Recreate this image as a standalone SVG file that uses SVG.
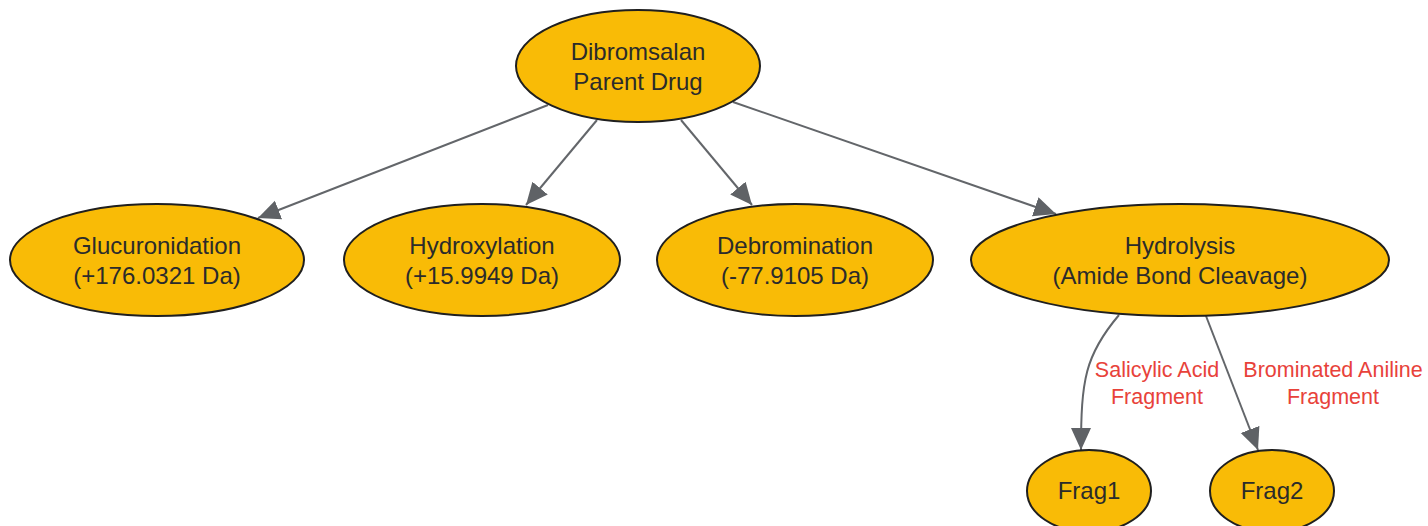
<svg xmlns="http://www.w3.org/2000/svg" width="1428" height="526" viewBox="0 0 1428 526">
<style>
.node ellipse{fill:#f9bb06;stroke:#1f1f1f;stroke-width:2}
.node text{font-family:"Liberation Sans",Arial,sans-serif;font-size:24px;fill:#2b2b2b;text-anchor:middle}
.edge{fill:none;stroke:#63666a;stroke-width:2}
.lbl{font-family:"Liberation Sans",Arial,sans-serif;font-size:21.5px;fill:#e8423a;text-anchor:middle}
</style>
<defs>
<marker id="arr" markerUnits="userSpaceOnUse" markerWidth="24" markerHeight="22" refX="22" refY="10" orient="auto">
<path d="M0,0 L22,10 L0,20 Z" fill="#5f6266"/>
</marker>
</defs>
<rect width="1428" height="526" fill="#ffffff"/>
<g id="connectors">
<path class="edge" d="M548,105 L258,218" marker-end="url(#arr)"/>
<path class="edge" d="M597,120 L526,205" marker-end="url(#arr)"/>
<path class="edge" d="M681,120 L752,205" marker-end="url(#arr)"/>
<path class="edge" d="M733,102 L1056,214" marker-end="url(#arr)"/>
<path class="edge" d="M1119,315 C1085,355 1081,380 1081,450" marker-end="url(#arr)"/>
<path class="edge" d="M1206,316 L1258,450" marker-end="url(#arr)"/>
<text class="lbl" x="1157" y="377">Salicylic Acid</text>
<text class="lbl" x="1157" y="404">Fragment</text>
<text class="lbl" x="1333" y="377">Brominated Aniline</text>
<text class="lbl" x="1333" y="404">Fragment</text>
</g>
<g id="parent" class="node">
<ellipse cx="638" cy="66" rx="122" ry="56"/>
<text x="638" y="60">Dibromsalan</text>
<text x="638" y="90">Parent Drug</text>
</g>
<g id="glucuronidation" class="node">
<ellipse cx="157" cy="260" rx="147" ry="56"/>
<text x="157" y="254">Glucuronidation</text>
<text x="157" y="284">(+176.0321 Da)</text>
</g>
<g id="hydroxylation" class="node">
<ellipse cx="482" cy="260" rx="138" ry="56"/>
<text x="482" y="254">Hydroxylation</text>
<text x="482" y="284">(+15.9949 Da)</text>
</g>
<g id="debromination" class="node">
<ellipse cx="795" cy="260" rx="138" ry="56"/>
<text x="795" y="254">Debromination</text>
<text x="795" y="284">(-77.9105 Da)</text>
</g>
<g id="hydrolysis" class="node">
<ellipse cx="1180" cy="260" rx="209" ry="56"/>
<text x="1180" y="254">Hydrolysis</text>
<text x="1180" y="284">(Amide Bond Cleavage)</text>
</g>
<g id="frag1" class="node">
<ellipse cx="1089" cy="491" rx="62" ry="41"/>
<text x="1089" y="499">Frag1</text>
</g>
<g id="frag2" class="node">
<ellipse cx="1272" cy="491" rx="62" ry="41"/>
<text x="1272" y="499">Frag2</text>
</g>
</svg>
